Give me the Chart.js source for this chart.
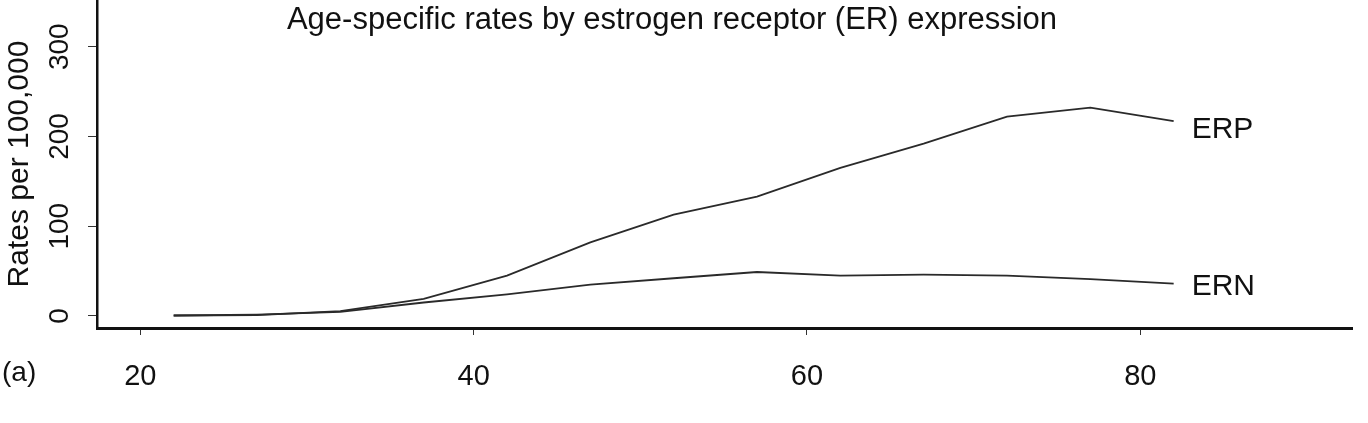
<!DOCTYPE html>
<html>
<head>
<meta charset="utf-8">
<script src="https://cdn.jsdelivr.net/npm/chart.js@4.4.1/dist/chart.umd.min.js"></script>
<style>
  html, body { margin: 0; padding: 0; background: #fff; }
  #wrap { width: 1368px; height: 423px; }
</style>
</head>
<body>
<div id="wrap"><canvas id="chart" width="1368" height="423"></canvas></div>
<script>
// Age-specific rates by ER expression
const ages = [22, 27, 32, 37, 42, 47, 52, 57, 62, 67, 72, 77, 82];
const erpRates = [0.5, 1, 5.5, 19, 45, 82, 113, 133, 165, 192, 222, 232, 217];
const ernRates = [0.5, 1.5, 4.5, 15, 24, 35, 42, 49, 45, 46, 45, 41, 36];
const xTicks = [20, 40, 60, 80];
const yTicks = [0, 100, 200, 300];

const FONT = '"Liberation Sans", Arial, sans-serif';
const INK = '#111';

function pts(ys) {
  return ages.map((a, i) => ({ x: a, y: ys[i] }));
}

// title, series labels and the panel tag
const annotate = {
  id: 'annotate',
  afterDraw(chart) {
    const ctx = chart.ctx;
    const xs = chart.scales.x, ys = chart.scales.y;
    ctx.save();
    ctx.fillStyle = INK;
    ctx.textBaseline = 'alphabetic';
    ctx.textAlign = 'center';
    ctx.font = '31px ' + FONT;
    ctx.fillText('Age-specific rates by estrogen receptor (ER) expression', 672, 29);

    ctx.textAlign = 'left';
    ctx.textBaseline = 'middle';
    ctx.font = '30px ' + FONT;
    const last = ages.length - 1;
    const lx = xs.getPixelForValue(ages[last]) + 18;
    ctx.fillText('ERP', lx, ys.getPixelForValue(erpRates[last]) + 9);
    ctx.fillText('ERN', lx, ys.getPixelForValue(ernRates[last]) + 3);

    ctx.font = '28px ' + FONT;
    ctx.fillText('(a)', 2, 373);
    ctx.restore();
  }
};

new Chart(document.getElementById('chart'), {
  type: 'line',
  data: {
    datasets: [
      { label: 'ERP', data: pts(erpRates), borderColor: '#2a2a2a', borderWidth: 1.8, pointRadius: 0, tension: 0 },
      { label: 'ERN', data: pts(ernRates), borderColor: '#2a2a2a', borderWidth: 1.8, pointRadius: 0, tension: 0 }
    ]
  },
  options: {
    responsive: false,
    devicePixelRatio: 1,
    animation: false,
    layout: { padding: { top: 0, left: 0, bottom: 0, right: 16 } },
    plugins: { legend: { display: false }, tooltip: { enabled: false }, title: { display: false } },
    scales: {
      x: {
        type: 'linear',
        min: 17.4,
        max: 92.7,
        afterBuildTicks: s => { s.ticks = xTicks.map(v => ({ value: v })); },
        afterFit: s => { s.height = 95; s.paddingLeft = 0; s.paddingRight = 0; },
        grid: { drawOnChartArea: false, drawTicks: true, tickLength: 7, color: '#333', lineWidth: 1 },
        border: { color: '#111', width: 3 },
        ticks: { color: INK, font: { family: FONT, size: 29 }, padding: 25, maxRotation: 0 }
      },
      y: {
        type: 'linear',
        min: -13.4,
        max: 352,
        afterBuildTicks: s => { s.ticks = yTicks.map(v => ({ value: v })); },
        afterFit: s => { s.width = 97; s.paddingTop = 0; s.paddingBottom = 0; },
        grid: { drawOnChartArea: false, drawTicks: true, tickLength: 9, color: '#333', lineWidth: 1 },
        border: { color: '#111', width: 2.5 },
        ticks: { color: INK, font: { family: FONT, size: 28 }, padding: 4, minRotation: 90, maxRotation: 90, crossAlign: 'center' },
        title: { display: true, text: 'Rates per 100,000', color: INK, font: { family: FONT, size: 30 }, padding: { top: 2, bottom: 0 } }
      }
    }
  },
  plugins: [annotate]
});
</script>
</body>
</html>
